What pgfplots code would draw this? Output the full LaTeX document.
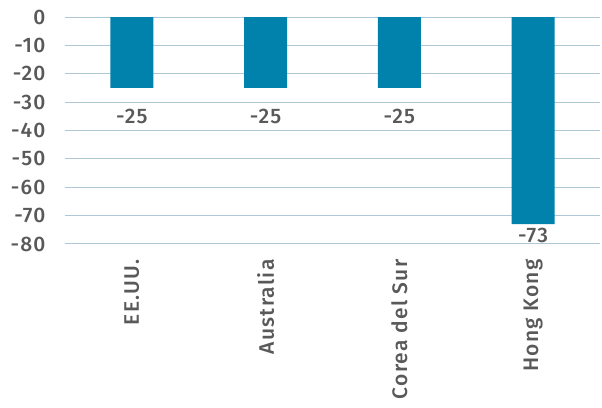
\documentclass[border=0pt]{standalone}
\usepackage{pgfplots}
\pgfplotsset{compat=1.18}
\usepackage{fontspec}
\setmainfont{Fira Sans}[BoldFont={Fira Sans Medium}, LetterSpace=6]
\definecolor{barblue}{HTML}{0082AC}
\definecolor{gridblue}{HTML}{AFC8D8}
\definecolor{txtgray}{HTML}{595959}
\begin{document}
\begin{tikzpicture}
\begin{axis}[
    scale only axis,
    width=535pt, height=227pt,
    xmin=-0.5, xmax=3.5,
    ymin=-80, ymax=0,
    ytick distance=10,
    xtick=data,
    xticklabels={EE.UU., Australia, Corea del Sur, Hong Kong},
    axis line style={draw=none},
    major tick length=0pt,
    ymajorgrids,
    grid style={gridblue, line width=1pt},
    tick label style={font=\fontsize{21}{24}\selectfont\bfseries, text=txtgray},
    /pgf/number format/assume math mode=true,
    yticklabel style={xshift=-16pt},
    xticklabel style={rotate=90, anchor=east, xshift=-12pt},
    visualization depends on={\thisrow{off} \as \off},
    nodes near coords,
    nodes near coords style={font=\fontsize{21}{24}\selectfont\bfseries, text=txtgray, anchor=north, yshift=-\off pt},
]
\addplot[ybar, bar width=43pt, fill=barblue, draw=none, bar shift=0pt] table {
x y off
0 -25 18
1 -25 18
2 -25 18
3 -73 0
};
\end{axis}
% page margins as in the reference
\path (current axis.north west) ++(-65pt,17pt);
\path (current axis.south east) ++(2pt,-164pt);
\end{tikzpicture}
\end{document}
